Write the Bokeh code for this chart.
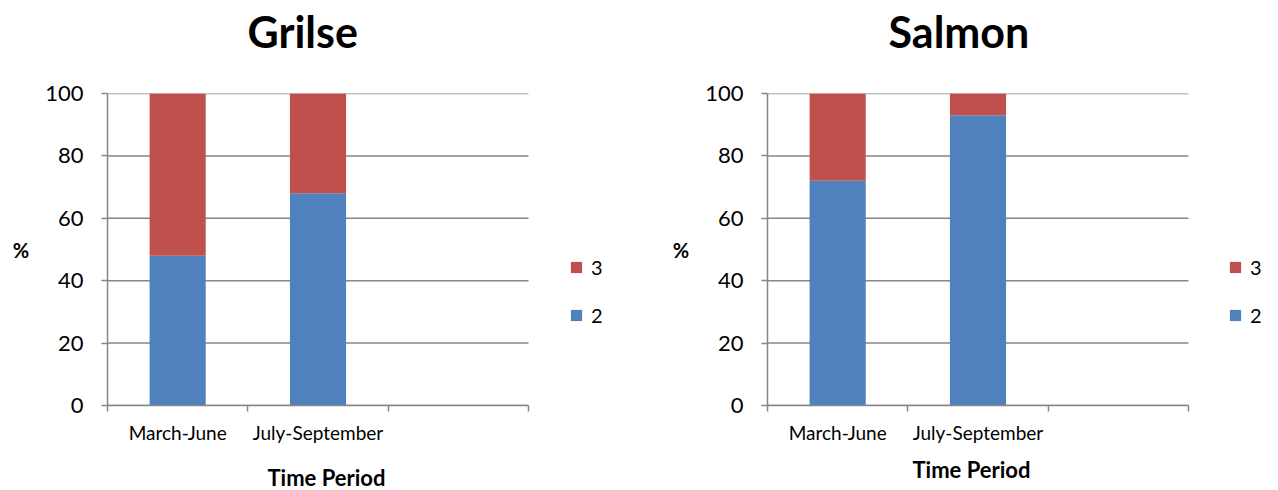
from bokeh.plotting import figure
from bokeh.layouts import row
from bokeh.models import (Range1d, FixedTicker, Title, Legend, LegendItem,
                          ColumnDataSource)
from bokeh.embed import file_html
from bokeh.resources import INLINE

# ---- data -------------------------------------------------------------
periods = ["March-June", "July-September", ""]
age_groups = ["2", "3"]

grilse_2 = [48, 68]
grilse_3 = [52, 32]

salmon_2 = [72, 93]
salmon_3 = [28, 7]

y_ticks = [0, 20, 40, 60, 80, 100]

# ---- style ------------------------------------------------------------
FONT = "Lato"
GREY = "#868686"
BLUE = "#4F81BD"
RED = "#C0504D"

AXIS_PX = 421      # pixel length of the category axis
FRAME_H = 312      # pixel height of the 0-100 value axis


def spacer(px):
    # empty title used only to push the next side-panel item outward
    return Title(text=" ", text_font_size="1px", standoff=px)


def make_panel(title, v2, v3, left, top, bottom, frame_w,
               title_offset, title_gap, xlabel_offset, xlabel_gap, legend_xy):
    n = len(periods)
    # the frame runs past the end of the category axis so the legend fits in it
    x_end = n * frame_w / AXIS_PX
    p = figure(frame_width=frame_w, frame_height=FRAME_H,
               output_backend="svg", toolbar_location=None,
               min_border_left=left, min_border_right=0,
               min_border_top=top, min_border_bottom=bottom,
               x_range=Range1d(0, x_end), y_range=Range1d(y_ticks[0], y_ticks[-1]))
    p.outline_line_color = None
    p.background_fill_color = "white"
    p.border_fill_color = "white"
    p.xgrid.visible = False
    p.ygrid.visible = False

    # horizontal gridlines across the category span
    p.segment(x0=[0] * len(y_ticks), x1=[n] * len(y_ticks), y0=y_ticks, y1=y_ticks,
              line_color=GREY, line_width=1.5, level="underlay")

    centers = [i + 0.5 for i in range(len(v2))]
    src = ColumnDataSource(dict(x=centers, **{"2": v2, "3": v3}))
    rs = p.vbar_stack(age_groups, x="x", width=0.4, source=src,
                      color=[BLUE, RED], line_color=None)

    # x axis: labels at category centres, ticks at category boundaries
    xa = p.xaxis[0]
    xa.bounds = (0, n)
    xa.ticker = FixedTicker(ticks=[i + 0.5 for i in range(n)],
                            minor_ticks=list(range(n + 1)))
    xa.major_label_overrides = {i + 0.5: lab for i, lab in enumerate(periods)}
    xa.major_tick_out = 0
    xa.major_tick_in = 0
    xa.minor_tick_out = 6
    xa.minor_tick_in = 0
    xa.minor_tick_line_color = GREY
    xa.minor_tick_line_width = 1.5
    xa.axis_line_color = GREY
    xa.axis_line_width = 1.5
    xa.major_label_text_font = FONT
    xa.major_label_text_font_size = "19px"
    xa.major_label_text_color = "black"
    xa.major_label_standoff = 9

    ya = p.yaxis[0]
    ya.ticker = FixedTicker(ticks=y_ticks)
    ya.major_tick_out = 6
    ya.major_tick_in = 0
    ya.minor_tick_out = 0
    ya.minor_tick_in = 0
    ya.major_tick_line_color = GREY
    ya.major_tick_line_width = 1.5
    ya.axis_line_color = GREY
    ya.axis_line_width = 1.5
    ya.major_label_text_font = FONT
    ya.major_label_text_font_size = "22px"
    ya.major_label_text_color = "black"
    ya.major_label_standoff = 18
    ya.axis_label = "%"
    ya.axis_label_orientation = "horizontal"
    ya.axis_label_standoff = 13
    ya.axis_label_text_font = FONT
    ya.axis_label_text_font_style = "bold"
    ya.axis_label_text_font_size = "20px"
    ya.axis_label_text_color = "black"

    # chart title above the frame
    p.add_layout(spacer(title_gap), "above")
    p.add_layout(Title(text=title, align="left", offset=title_offset,
                       vertical_align="bottom", standoff=0,
                       text_font=FONT, text_font_style="bold", text_font_size="43px",
                       text_color="black"), "above")

    # axis title below the category labels
    p.add_layout(spacer(xlabel_gap), "below")
    p.add_layout(Title(text="Time Period", align="left", offset=xlabel_offset,
                       vertical_align="bottom", standoff=0,
                       text_font=FONT, text_font_style="bold", text_font_size="22px",
                       text_color="black"), "below")

    legend = Legend(items=[LegendItem(label="3", renderers=[rs[1]]),
                           LegendItem(label="2", renderers=[rs[0]])],
                    location=legend_xy, orientation="vertical",
                    glyph_width=14, glyph_height=14, label_height=14,
                    label_standoff=8, spacing=24, padding=0, margin=0,
                    border_line_color=None, background_fill_alpha=0,
                    label_text_font=FONT, label_text_font_size="20px",
                    label_text_color="black", label_text_baseline="middle")
    p.add_layout(legend, "center")
    return p


p1 = make_panel("Grilse", grilse_2, grilse_3, left=107, top=93, bottom=85,
                frame_w=532, title_offset=140, title_gap=34,
                xlabel_offset=160, xlabel_gap=12, legend_xy=(462, 78))
p2 = make_panel("Salmon", salmon_2, salmon_3, left=128, top=93, bottom=85,
                frame_w=511, title_offset=121, title_gap=34,
                xlabel_offset=145, xlabel_gap=4, legend_xy=(461, 78))

layout = row(p1, p2, spacing=0)
open("out.html", "w").write(file_html(layout, INLINE))
